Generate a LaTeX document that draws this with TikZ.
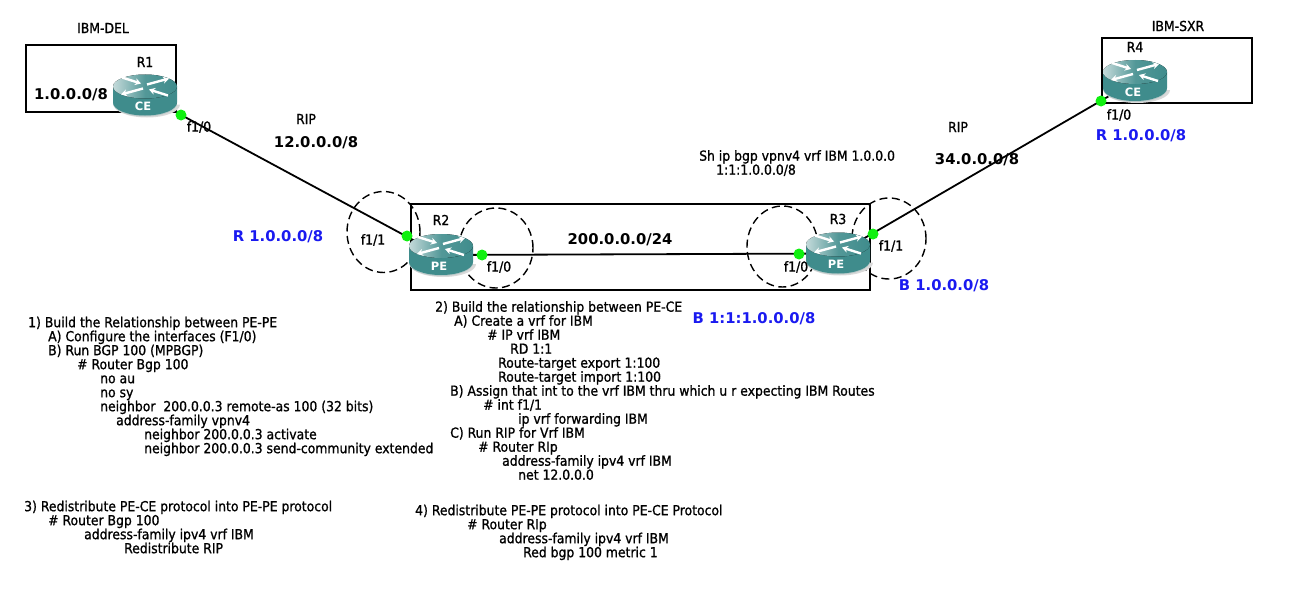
\documentclass[tikz,border=0pt]{standalone}
\usepackage{fontspec}
\setmainfont{DejaVu Sans Condensed}[FakeBold=1]
\newfontfamily\heavy{DejaVu Sans Bold}
\usetikzlibrary{backgrounds,shapes.geometric,arrows.meta}

\definecolor{routerbody}{HTML}{3F8C8C}
\definecolor{routerlight}{HTML}{C4DADA}
\definecolor{routerrim}{HTML}{B9C9C9}
\definecolor{routeblue}{HTML}{1A1AF0}
\definecolor{portgreen}{HTML}{10F010}

\tikzset{
  x=1pt,y=-1pt,
  txt/.style={inner sep=0pt,font=\fontsize{13.8}{14}\selectfont},
  big/.style={inner sep=0pt,font=\heavy\fontsize{14.8}{18}\selectfont},
  rib/.style={big,text=routeblue},
  cfg/.style={txt,anchor=north west,align=left},
  port/.style={circle,fill=portgreen,inner sep=0pt,minimum size=11pt},
  area/.style={draw,line width=1.8pt},
  halo/.style={draw,ellipse,inner sep=0pt,line width=1.4pt,dash pattern=on 8pt off 4.5pt},
  link/.style={line width=1.8pt},
  flow/.style={white,line width=2.4pt,-{Stealth[length=6pt,width=7pt]}},
  router/.pic={
    % shadow, rim, body, lid, then the four arrows
    \fill[black!15] (-31,9) arc[x radius=33,y radius=13,start angle=180,end angle=0] -- cycle;
    \fill[routerrim] (-32,8) arc[x radius=32,y radius=13,start angle=180,end angle=0] -- cycle;
    \fill[routerbody] (-32,-9) -- (-32,7) arc[x radius=32,y radius=13,start angle=180,end angle=0] -- (32,-9) -- cycle;
    \fill[left color=routerlight,right color=routerbody,middle color=routerbody!85!routerlight] (0,-9) ellipse[x radius=32,y radius=12];
    \draw[flow] (-2,-7) -- (-24,-1);
    \draw[flow] (2,-11) -- (24,-17);
    \draw[flow] (-23,-18) -- (-4,-12);
    \draw[flow] (23,0) -- (4,-6);
    \node[inner sep=0pt,text=white,font=\heavy\fontsize{11.5}{14}\selectfont] (-tag) at (-2,11) {\tikzpictext};
    \coordinate (-hub) at (0,0);
  }
}

\begin{document}
\begin{tikzpicture}
  \useasboundingbox (0,0) rectangle (1290,594);

  \pic[pic text=CE] (r1) at (145,95.5) {router};
  \pic[pic text=PE] (r2) at (441,255) {router};
  \pic[pic text=PE] (r3) at (838,253.5) {router};
  \pic[pic text=CE] (r4) at (1135,81) {router};

  \begin{scope}[on background layer]
    \node[area,minimum width=150pt,minimum height=67pt,inner sep=0pt] (del) at (101,78.5) {};
    \node[area,minimum width=459pt,minimum height=86pt,inner sep=0pt] (core) at (640.5,247) {};
    \node[area,minimum width=150pt,minimum height=65pt,inner sep=0pt] (sxr) at (1177,70.5) {};

    \node[halo,minimum width=73pt,minimum height=81pt] (ring21) at (383.5,232) {};
    \node[halo,minimum width=74pt,minimum height=80pt] (ring20) at (496,248) {};
    \node[halo,minimum width=71pt,minimum height=81pt] (ring30) at (782.5,246.5) {};
    \node[halo,minimum width=74pt,minimum height=81pt] (ring31) at (889,238.5) {};

    \draw[link] (r1-hub) -- (r2-hub);
    \draw[link] (r2-hub) -- (r3-hub);
    \draw[link] (r3-hub) -- (r4-hub);
  \end{scope}

  \node[port] (p10) at (181,115) {};
  \node[port] (p21) at (407,236) {};
  \node[port] (p20) at (482,255) {};
  \node[port] (p30) at (799,254) {};
  \node[port] (p31) at (873,234) {};
  \node[port] (p40) at (1101,101) {};

  % names of sites and routers
  \node[txt] (del name) at (103,28) {IBM-DEL};
  \node[txt] (sxr name) at (1178,26) {IBM-SXR};
  \node[txt] (r1 name) at (145,62) {R1};
  \node[txt] (r2 name) at (441,220) {R2};
  \node[txt] (r3 name) at (838,219) {R3};
  \node[txt] (r4 name) at (1135,47) {R4};

  % interfaces
  \node[txt] (f10a) at (199,127) {f1/0};
  \node[txt] (f11b) at (373,240) {f1/1};
  \node[txt] (f10b) at (499,267) {f1/0};
  \node[txt] (f10c) at (796,267) {f1/0};
  \node[txt] (f11c) at (891,246) {f1/1};
  \node[txt] (f10d) at (1119,115) {f1/0};

  % networks
  \node[big] (net1) at (71,95) {1.0.0.0/8};
  \node[txt] (rip1) at (306,119) {RIP};
  \node[big] (net12) at (316,143) {12.0.0.0/8};
  \node[big] (net200) at (620,240) {200.0.0.0/24};
  \node[txt] (rip2) at (958,127) {RIP};
  \node[big] (net34) at (977,160) {34.0.0.0/8};
  \node[rib] (rib2) at (278,237) {R 1.0.0.0/8};
  \node[rib] (rib3) at (944,286) {B 1.0.0.0/8};
  \node[rib] (rib3v) at (754,319) {B 1:1:1.0.0.0/8};
  \node[rib] (rib4) at (1141,136) {R 1.0.0.0/8};
  \node[cfg] (show) at (699,150) {Sh ip bgp vpnv4 vrf IBM 1.0.0.0\\\hspace*{17pt}1:1:1.0.0.0/8};

  % the four steps
  \node[cfg] (step1) at (28,316.5) {1) Build the Relationship between PE-PE\\
    \hspace*{20pt}A) Configure the interfaces (F1/0)\\
    \hspace*{20pt}B) Run BGP 100 (MPBGP)\\
    \hspace*{49pt}\# Router Bgp 100\\
    \hspace*{72pt}no au\\
    \hspace*{72pt}no sy\\
    \hspace*{72pt}neighbor\ \ 200.0.0.3 remote-as 100 (32 bits)\\
    \hspace*{88pt}address-family vpnv4\\
    \hspace*{116pt}neighbor 200.0.0.3 activate\\
    \hspace*{116pt}neighbor 200.0.0.3 send-community extended};
  \node[cfg] (step2) at (435,301) {2) Build the relationship between PE-CE\\
    \hspace*{19pt}A) Create a vrf for IBM\\
    \hspace*{52pt}\# IP vrf IBM\\
    \hspace*{75pt}RD 1:1\\
    \hspace*{63pt}Route-target export 1:100\\
    \hspace*{63pt}Route-target import 1:100\\
    \hspace*{15pt}B) Assign that int to the vrf IBM thru which u r expecting IBM Routes\\
    \hspace*{48pt}\# int f1/1\\
    \hspace*{83pt}ip vrf forwarding IBM\\
    \hspace*{15pt}C) Run RIP for Vrf IBM\\
    \hspace*{43pt}\# Router RIp\\
    \hspace*{67pt}address-family ipv4 vrf IBM\\
    \hspace*{83pt}net 12.0.0.0};
  \node[cfg] (step3) at (24,500.5) {3) Redistribute PE-CE protocol into PE-PE protocol\\
    \hspace*{24pt}\# Router Bgp 100\\
    \hspace*{60pt}address-family ipv4 vrf IBM\\
    \hspace*{100pt}Redistribute RIP};
  \node[cfg] (step4) at (415,504.5) {4) Redistribute PE-PE protocol into PE-CE Protocol\\
    \hspace*{52pt}\# Router RIp\\
    \hspace*{84pt}address-family ipv4 vrf IBM\\
    \hspace*{108pt}Red bgp 100 metric 1};
\end{tikzpicture}
\end{document}
